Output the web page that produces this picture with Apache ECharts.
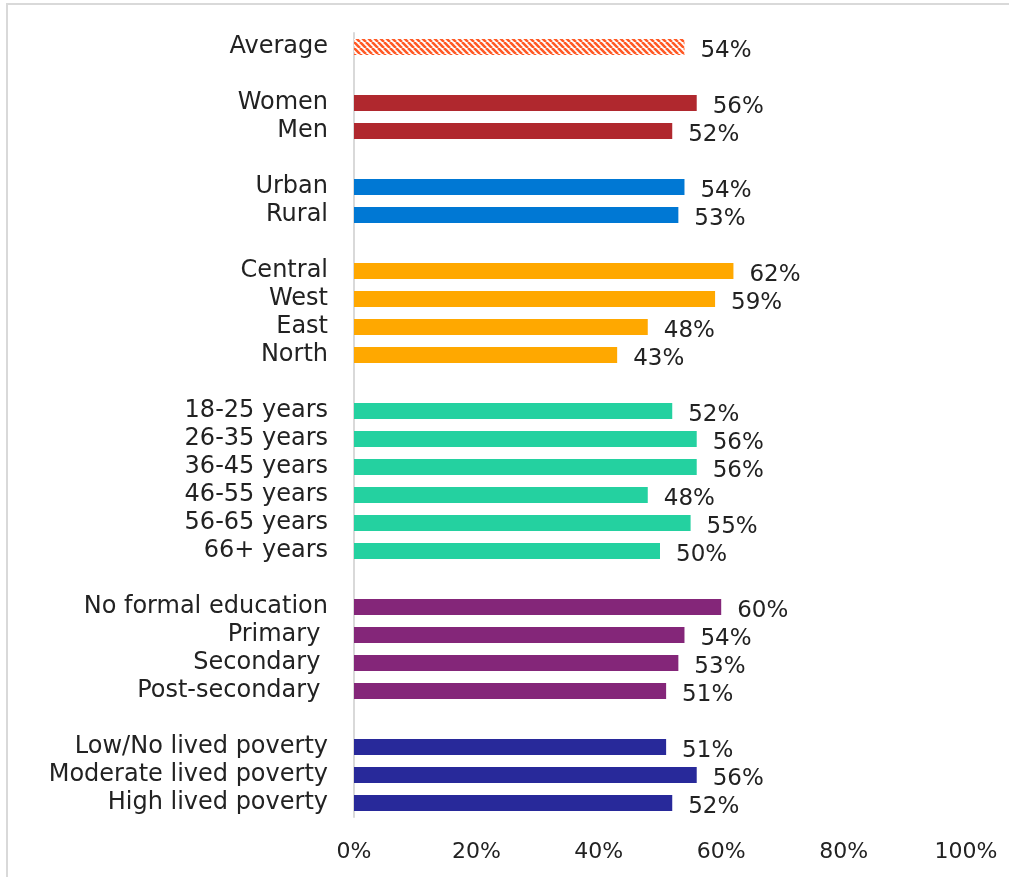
<!DOCTYPE html>
<html>
<head>
<meta charset="utf-8">
<script src="https://cdn.jsdelivr.net/npm/echarts@6/dist/echarts.min.js"></script>
<style>
  html, body { margin: 0; padding: 0; background: #fff; }
  #chart { width: 1009px; height: 877px; }
</style>
</head>
<body>
<div id="chart"></div>
<script>
// Categories (blank strings are spacer rows between groups)
const categories = [
  'Average', ' ',
  'Women', 'Men', '  ',
  'Urban', 'Rural', '   ',
  'Central', 'West', 'East', 'North', '    ',
  '18-25 years', '26-35 years', '36-45 years', '46-55 years', '56-65 years', '66+ years', '     ',
  'No formal education', 'Primary ', 'Secondary ', 'Post-secondary ', '      ',
  'Low/No lived poverty', 'Moderate lived poverty', 'High lived poverty'
];
// Values in percent (null for spacer rows)
const values = [
  54, null,
  56, 52, null,
  54, 53, null,
  62, 59, 48, 43, null,
  52, 56, 56, 48, 55, 50, null,
  60, 54, 53, 51, null,
  51, 56, 52
];
// Group index of each row
const groups = [
  0, -1,
  1, 1, -1,
  2, 2, -1,
  3, 3, 3, 3, -1,
  4, 4, 4, 4, 4, 4, -1,
  5, 5, 5, 5, -1,
  6, 6, 6
];
const groupColors = ['hatch', '#B0282E', '#0078D4', '#FFA800', '#24D1A0', '#842679', '#28299A'];
const xTicks = [0, 20, 40, 60, 80, 100];

// Hatched pattern for the average bar
function makeHatch() {
  const c = document.createElement('canvas');
  const s = 6;
  c.width = s; c.height = s;
  const ctx = c.getContext('2d');
  ctx.fillStyle = '#ffffff';
  ctx.fillRect(0, 0, s, s);
  ctx.strokeStyle = '#FF5A26';
  ctx.lineWidth = 2.6;
  ctx.beginPath();
  for (let k = -1; k <= 1; k++) {
    ctx.moveTo(k * s, 0);
    ctx.lineTo(k * s + s, s);
  }
  ctx.stroke();
  return c;
}
const hatch = makeHatch();

const FONT = 'DejaVu Sans';
const TXT = '#222222';

const seriesData = values.map((v, i) => {
  if (v === null) return { value: null };
  const g = groups[i];
  const col = groupColors[g] === 'hatch' ? { image: hatch, repeat: 'repeat' } : groupColors[g];
  return { value: v, itemStyle: { color: col } };
});

const chart = echarts.init(document.getElementById('chart'), null, { renderer: 'canvas' });
chart.setOption({
  animation: false,
  backgroundColor: '#ffffff',
  graphic: [{
    type: 'rect',
    shape: { x: 7, y: 4, width: 1010, height: 885 },
    style: { fill: 'none', stroke: '#d9d9d9', lineWidth: 2 },
    silent: true
  }],
  grid: { left: 354, right: 43, top: 33, bottom: 60, containLabel: false },
  xAxis: {
    type: 'value',
    min: xTicks[0],
    max: xTicks[xTicks.length - 1],
    interval: 20,
    axisLine: { show: false },
    axisTick: { show: false },
    splitLine: { show: false },
    axisLabel: {
      formatter: v => xTicks.indexOf(v) >= 0 ? v + '%' : '',
      fontFamily: FONT, fontSize: 22, color: TXT, margin: 24
    }
  },
  yAxis: {
    type: 'category',
    data: categories,
    inverse: true,
    axisLine: { show: true, lineStyle: { color: '#d9d9d9', width: 2 } },
    axisTick: { show: false },
    splitLine: { show: false },
    axisLabel: {
      interval: 0,
      padding: [5, 0, 0, 0],
      fontFamily: FONT, fontSize: 24, color: TXT, margin: 26
    }
  },
  series: [{
    type: 'bar',
    data: seriesData,
    barWidth: 16,
    label: {
      show: true,
      position: 'right',
      distance: 16,
      offset: [0, 4],
      formatter: p => (p.value === null || p.value === undefined) ? '' : p.value + '%',
      fontFamily: FONT, fontSize: 23, color: TXT
    }
  }]
});
</script>
</body>
</html>
